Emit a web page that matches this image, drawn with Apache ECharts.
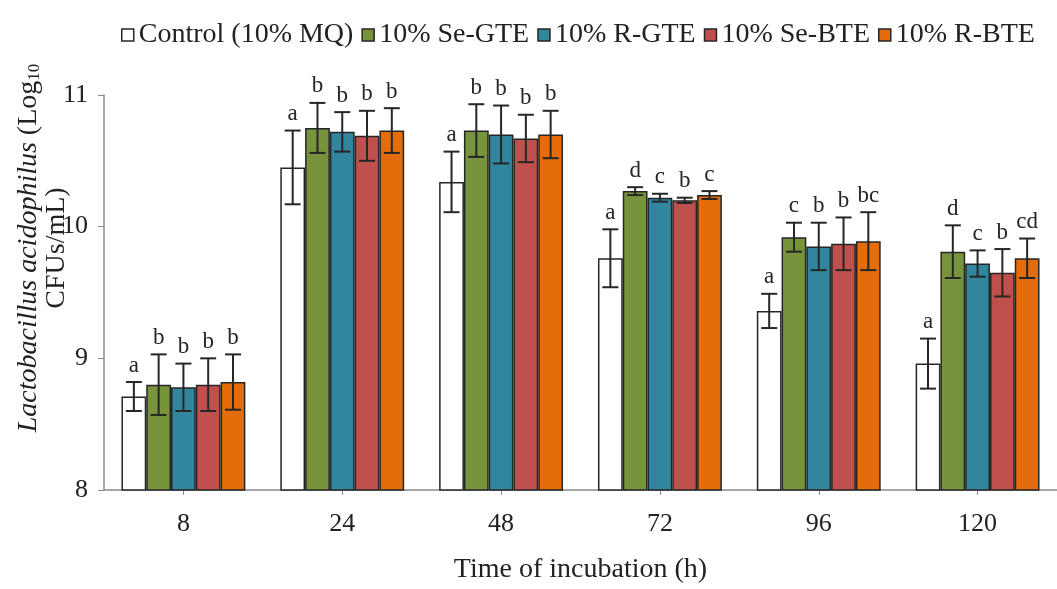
<!DOCTYPE html>
<html>
<head>
<meta charset="utf-8">
<script src="https://cdn.jsdelivr.net/npm/echarts@6/dist/echarts.min.js"></script>
<style>html,body{margin:0;padding:0;background:#fff;}#c{width:1057px;height:589px;}</style>
</head>
<body>
<div id="c"></div>
<script>
const categories = ['8', '24', '48', '72', '96', '120'];
const seriesNames = ['Control (10% MQ)', '10% Se-GTE', '10% R-GTE', '10% Se-BTE', '10% R-BTE'];

const control    = [8.71, 10.45, 10.34, 9.76, 9.36, 8.96];
const controlErr = [0.11, 0.28, 0.23, 0.22, 0.13, 0.19];
const seGte      = [8.80, 10.75, 10.73, 10.27, 9.92, 9.81];
const seGteErr   = [0.23, 0.19, 0.20, 0.03, 0.11, 0.20];
const rGte       = [8.78, 10.72, 10.70, 10.22, 9.85, 9.72];
const rGteErr    = [0.18, 0.15, 0.22, 0.03, 0.18, 0.10];
const seBte      = [8.80, 10.69, 10.67, 10.20, 9.87, 9.65];
const seBteErr   = [0.20, 0.19, 0.18, 0.02, 0.20, 0.18];
const rBte       = [8.82, 10.73, 10.70, 10.24, 9.89, 9.76];
const rBteErr    = [0.21, 0.17, 0.18, 0.03, 0.22, 0.15];

const controlLetters = ['a', 'a', 'a', 'a', 'a', 'a'];
const seGteLetters   = ['b', 'b', 'b', 'd', 'c', 'd'];
const rGteLetters    = ['b', 'b', 'b', 'c', 'b', 'c'];
const seBteLetters   = ['b', 'b', 'b', 'b', 'b', 'b'];
const rBteLetters    = ['b', 'b', 'b', 'c', 'bc', 'cd'];

const yTicks = [8, 9, 10, 11];

const FONT = "'Liberation Serif','Times New Roman',serif";
const colors = ['#FFFFFF', '#77933C', '#31859C', '#C0504D', '#E46C0A'];
const values = [control, seGte, rGte, seBte, rBte];
const errs = [controlErr, seGteErr, rGteErr, seBteErr, rBteErr];
const letters = [controlLetters, seGteLetters, rGteLetters, seBteLetters, rBteLetters];
const CAT_GAP = 0.22;

const chart = echarts.init(document.getElementById('c'), null, {renderer: 'canvas'});

const barSeries = values.map((v, i) => ({
  name: seriesNames[i],
  type: 'bar',
  data: v,
  barGap: '0%',
  barCategoryGap: '22%',
  itemStyle: {color: colors[i], borderColor: '#262626', borderWidth: 1.5},
  z: 2
}));

const errSeries = values.map((v, i) => ({
  type: 'custom',
  name: 'err' + i,
  z: 5,
  silent: true,
  data: v.map((val, k) => [k, val, errs[i][k]]),
  renderItem: function (params, api) {
    const k = api.value(0);
    const val = api.value(1);
    const e = api.value(2);
    const band = api.size([1, 0])[0];
    const barW = band * (1 - CAT_GAP) / 5;
    const c = api.coord([k, val]);
    const xc = c[0] + (i - 2) * barW;
    const yT = api.coord([k, val + e])[1];
    const yB = api.coord([k, val - e])[1];
    const cap = 8;
    const ls = {stroke: '#262626', lineWidth: 2};
    return {
      type: 'group',
      children: [
        {type: 'line', shape: {x1: xc, y1: yT, x2: xc, y2: yB}, style: ls},
        {type: 'line', shape: {x1: xc - cap, y1: yT, x2: xc + cap, y2: yT}, style: ls},
        {type: 'line', shape: {x1: xc - cap, y1: yB, x2: xc + cap, y2: yB}, style: ls},
        {type: 'text', x: xc, y: yT - 5, style: {
          text: letters[i][params.dataIndex], fill: '#262626',
          font: '23px ' + FONT, align: 'center', verticalAlign: 'bottom'
        }}
      ]
    };
  }
}));

chart.setOption({
  animation: false,
  backgroundColor: '#fff',
  textStyle: {fontFamily: FONT},
  legend: {
    data: seriesNames,
    left: 116,
    top: 16,
    itemWidth: 12,
    itemHeight: 12,
    itemGap: 8,
    icon: 'rect',
    selectedMode: false,
    itemStyle: {borderColor: '#262626', borderWidth: 1.5},
    textStyle: {fontFamily: FONT, fontSize: 28, color: '#222'}
  },
  grid: {left: 104, top: 95, width: 960, height: 404, containLabel: false},
  xAxis: {
    type: 'category',
    data: categories,
    name: 'Time of incubation (h)',
    nameLocation: 'middle',
    nameGap: 66,
    nameTextStyle: {fontFamily: FONT, fontSize: 28, color: '#222'},
    axisLine: {lineStyle: {color: '#8c8c8c', width: 1.5}},
    axisTick: {show: true, alignWithLabel: true, length: 5, lineStyle: {color: '#8c8c8c'}},
    axisLabel: {fontFamily: FONT, fontSize: 26, color: '#222', margin: 21},
    splitLine: {show: false}
  },
  yAxis: {
    type: 'value',
    min: yTicks[0],
    max: yTicks[yTicks.length - 1],
    interval: 1,
    axisLine: {show: true, lineStyle: {color: '#8c8c8c', width: 1.5}},
    axisTick: {show: true, length: 6, lineStyle: {color: '#8c8c8c'}},
    axisLabel: {fontFamily: FONT, fontSize: 26, color: '#222', margin: 16},
    splitLine: {show: false}
  },
  graphic: [{
    type: 'text',
    x: 43,
    y: 248,
    rotation: Math.PI / 2,
    style: {
      text: '{i|Lactobacillus acidophilus} {n|(Log}{s|10}\n{n|CFUs/mL)}',
      align: 'center',
      verticalAlign: 'middle',
      fill: '#222',
      font: '28px ' + FONT,
      rich: {
        i: {fontStyle: 'italic', fontSize: 28, fontFamily: FONT, lineHeight: 28, fill: '#222'},
        n: {fontSize: 28, fontFamily: FONT, lineHeight: 28, fill: '#222'},
        s: {fontSize: 17, fontFamily: FONT, lineHeight: 28, verticalAlign: 'bottom', fill: '#222'}
      }
    }
  }],
  series: barSeries.concat(errSeries)
});
</script>
</body>
</html>
